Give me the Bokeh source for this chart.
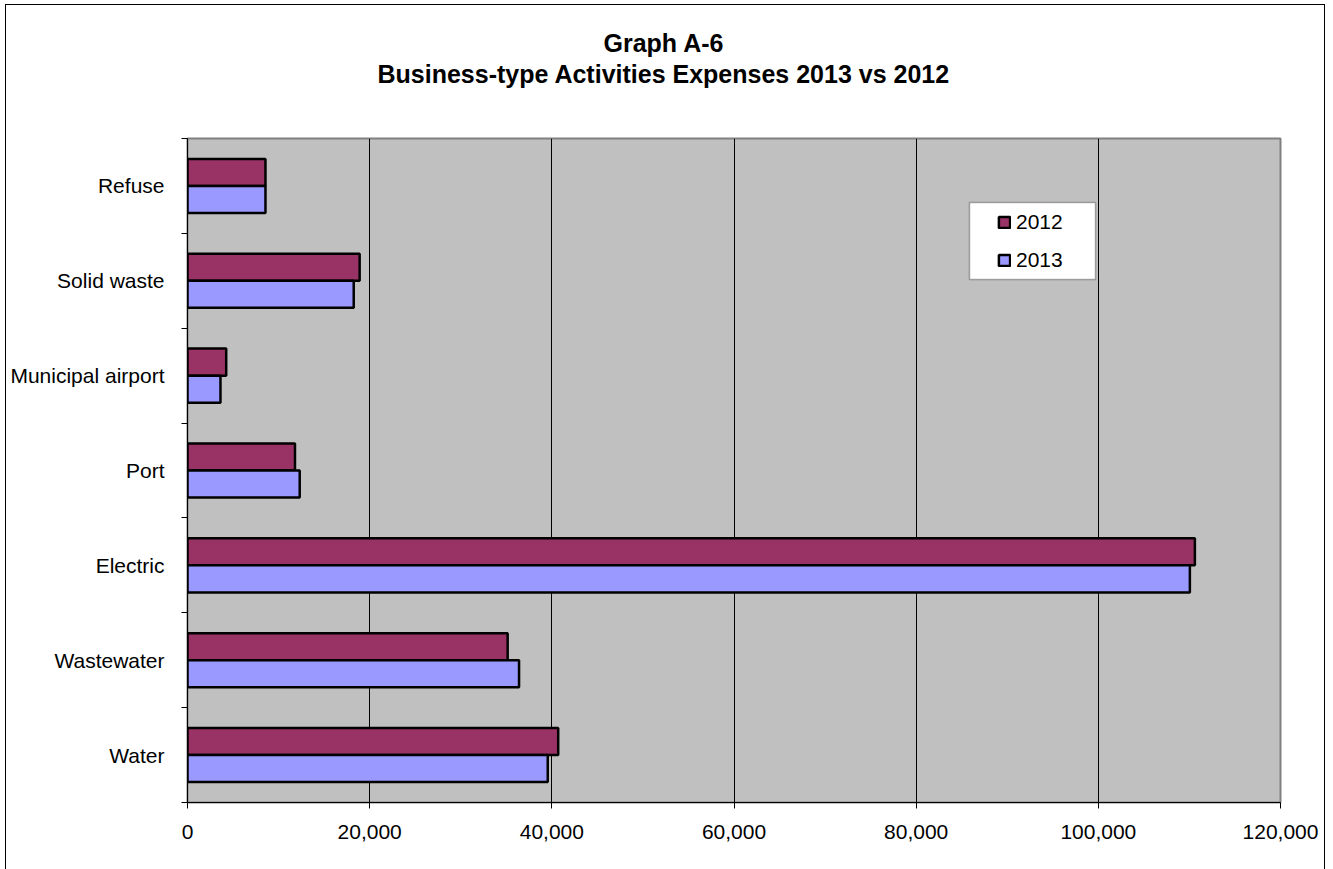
from bokeh.plotting import figure
from bokeh.models import (ColumnDataSource, Range1d, FixedTicker, NumeralTickFormatter,
                          Legend, LegendItem, Title, BoxAnnotation, InlineStyleSheet)
from bokeh.transform import dodge
from bokeh.embed import file_html
from bokeh.resources import INLINE

# ---- data (bottom to top) ----
categories = ["Water", "Wastewater", "Electric", "Port", "Municipal airport", "Solid waste", "Refuse"]
expenses_2012 = [40700, 35150, 110600, 11800, 4250, 18900, 8560]
expenses_2013 = [39550, 36400, 110050, 12320, 3620, 18250, 8560]
x_ticks = [0, 20000, 40000, 60000, 80000, 100000, 120000]
series_names = ["2012", "2013"]
series_colors = ["#993366", "#9999FF"]
title_lines = ["Graph A-6", "Business-type Activities Expenses 2013 vs 2012"]

FONT = "Liberation Sans"
W, H = 1333, 869
FL, FR, FT, FB = 187, 1280, 138, 802  # frame edges in pixels

pos = [i + 0.5 for i in range(len(categories))]
src = ColumnDataSource(dict(cat=categories, pos=pos, v2012=expenses_2012, v2013=expenses_2013))

border_css = InlineStyleSheet(css="""
:host { position: relative; overflow: hidden; }
:host::after { content: ""; position: absolute; left: 5px; top: 4px; right: 8px; bottom: -20px;
               border: 1.5px solid black; pointer-events: none; }
""")

p = figure(width=W, height=H, output_backend="svg", toolbar_location=None,
           x_range=Range1d(0, 120000), y_range=Range1d(0, len(categories)),
           min_border_left=FL, min_border_right=W - FR, min_border_top=FT, min_border_bottom=H - FB,
           background_fill_color="#C0C0C0", border_fill_color="white",
           stylesheets=[border_css])
p.outline_line_color = "#808080"
p.outline_line_width = 2

bar_h = 0.285
r12 = p.hbar(y=dodge("pos", bar_h / 2), right="v2012", left=0, height=bar_h, source=src,
             fill_color=series_colors[0], line_color="black", line_width=2.5)
r13 = p.hbar(y=dodge("pos", -bar_h / 2), right="v2013", left=0, height=bar_h, source=src,
             fill_color=series_colors[1], line_color="black", line_width=2.5)

# x axis
p.xaxis.ticker = FixedTicker(ticks=x_ticks)
p.xaxis.formatter = NumeralTickFormatter(format="0,0")
p.xaxis.major_label_text_font = FONT
p.xaxis.major_label_text_font_size = "21px"
p.xaxis.major_label_text_color = "black"
p.xaxis.major_tick_out = 6
p.xaxis.major_tick_in = 0
p.xaxis.minor_tick_out = 0
p.xaxis.axis_line_color = "black"
p.xaxis.major_tick_line_color = "black"
p.xaxis.major_label_standoff = 16

# y axis: labels at centres, tick marks at category boundaries
p.yaxis.ticker = FixedTicker(ticks=pos, minor_ticks=list(range(len(categories) + 1)))
p.yaxis.major_label_overrides = {pp: c for pp, c in zip(pos, categories)}
p.yaxis.major_label_text_font = FONT
p.yaxis.major_label_text_font_size = "21px"
p.yaxis.major_label_text_color = "black"
p.yaxis.major_tick_out = 0
p.yaxis.major_tick_in = 0
p.yaxis.minor_tick_out = 6
p.yaxis.minor_tick_in = 0
p.yaxis.minor_tick_line_color = "black"
p.yaxis.axis_line_color = "black"
p.yaxis.major_label_standoff = 17

p.xgrid.grid_line_color = "black"
p.xgrid.grid_line_width = 1
p.ygrid.grid_line_color = None

# legend box
p.add_layout(BoxAnnotation(left=969 - FL, right=1095 - FL, top=FB - 202, bottom=FB - 279,
                           left_units="screen", right_units="screen",
                           top_units="screen", bottom_units="screen",
                           fill_color="white", fill_alpha=1, line_color="black", line_width=1.5))

legend = Legend(items=[LegendItem(label=series_names[0], renderers=[r12]),
                       LegendItem(label=series_names[1], renderers=[r13])],
                location=(989 - FL, FB - 280), orientation="vertical",
                background_fill_alpha=0, border_line_alpha=0,
                padding=8, spacing=14, margin=0, glyph_width=14, glyph_height=14,
                label_standoff=5, label_text_font=FONT, label_text_font_size="21px",
                label_text_color="black", label_height=19)
p.add_layout(legend)

# title: spacer closest to the frame, then line 2, then line 1
p.add_layout(Title(text=" ", text_font_size="10px", standoff=37), "above")
p.add_layout(Title(text=title_lines[1], align="left", offset=377 - FL, standoff=2,
                   text_font=FONT, text_font_size="25px", text_font_style="bold",
                   text_color="black"), "above")
p.add_layout(Title(text=title_lines[0], align="left", offset=603 - FL, standoff=0,
                   text_font=FONT, text_font_size="25px", text_font_style="bold",
                   text_color="black"), "above")

open("out.html", "w").write(file_html(p, INLINE))
